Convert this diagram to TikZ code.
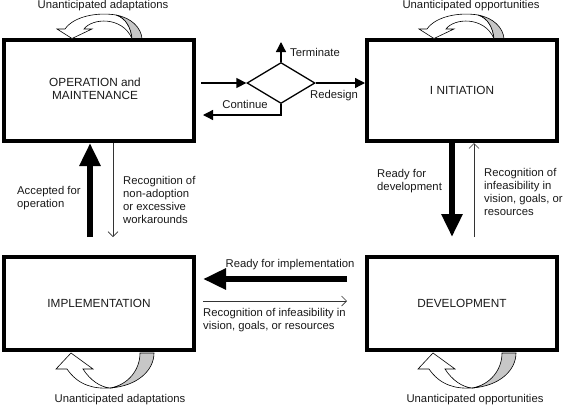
\documentclass[tikz,border=0pt]{standalone}
\usepackage{fontspec}
\setmainfont{Liberation Sans}
\usetikzlibrary{arrows.meta,shapes.geometric,calc}
\newcommand\topribbon{%
  \draw[ribbon] (57,29) -- (72,38.5) -- (92,29) -- (84,29)
    .. controls (92,18) and (122,16) .. (132,38.5)
    .. controls (131,28) and (126,18) .. (116,15)
    .. controls (98,12) and (74,16) .. (65,29) -- cycle;
  \draw[ribbonback] (116,15) .. controls (132,18) and (141,28) .. (142,38.5)
    -- (132,38.5) .. controls (131,28) and (126,18) .. (116,15) -- cycle;}
\newcommand\botribbon{%
  \draw[ribbon] (56,369) -- (71,353) -- (93,369) -- (83,369)
    .. controls (90,380) and (100,387) .. (110,388)
    .. controls (93,389) and (78,385) .. (67,369) -- cycle;
  \draw[ribbonback] (110,388) .. controls (138,386) and (154,370) .. (154,353)
    -- (140,353) .. controls (140,370) and (128,385) .. (110,388) -- cycle;}
\begin{document}
\begin{tikzpicture}[x=1pt,y=-1pt,
  every node/.style={font=\fontsize{11.3}{13}\selectfont, text=black!90},
  phase/.style={draw, line width=4pt, minimum width=190pt, inner sep=0pt, align=center,
    font=\fontsize{11.8}{13.5}\selectfont},
  fatarrow/.style={line width=6pt, -{Triangle[length=23pt,width=20pt]}},
  thinarrow/.style={line width=0.7pt, draw=black!80, -{Straight Barb[length=5pt,width=10pt]}},
  midarrow/.style={line width=1.3pt, -{Triangle[length=10pt,width=10pt]}},
  lbl/.style={align=left, inner sep=0pt},
  ribbon/.style={draw, line width=0.6pt, fill=white},
  ribbonback/.style={draw, line width=0.6pt, fill=black!22},
]
\useasboundingbox (0,0) rectangle (566,408);

% phases
\node[phase, minimum height=101pt] (op) at (99,90.5)
  {\raisebox{-6pt}{\begin{tabular}{@{}c@{}}OPERATION and\\MAINTENANCE\end{tabular}}\hspace*{8pt}};
\node[phase, minimum height=101pt] (init) at (462,90.5) {I NITIATION};
\node[phase, minimum height=93pt] (impl) at (99,303.5) {IMPLEMENTATION};
\node[phase, minimum height=93pt] (dev) at (462,303.5) {DEVELOPMENT};

% self loops
\topribbon
\begin{scope}[shift={(362,0)}]\topribbon\end{scope}
\botribbon
\begin{scope}[shift={(362,0)}]\botribbon\end{scope}
\node[lbl] (ua1) at (103,6) {Unanticipated adaptations};
\node[lbl] (uo1) at (471,6) {Unanticipated opportunities};
\node[lbl] (ua2) at (120,400) {Unanticipated adaptations};
\node[lbl] (uo2) at (475,400) {Unanticipated opportunities};

% decision
\node[draw, diamond, line width=1.3pt, minimum width=68pt, minimum height=41pt, inner sep=0pt] (dec) at (281,83) {};
\coordinate (term) at (281,42);
\draw[midarrow] ([xshift=5pt,yshift=7.5pt]op.east) -- (dec.west);
\draw[midarrow] (dec.east) -- ([yshift=7.5pt]init.west);
\draw[midarrow] (dec.north) -- (term);
\draw[midarrow] (dec.south) |- ([xshift=7pt,yshift=-24.5pt]op.east);
\node[lbl, anchor=west] (tterm) at (290,52) {Terminate};
\node[lbl] (tred) at (334,96) {Redesign};
\node[lbl] (tcont) at (245,104) {Continue};

% vertical transitions
\draw[fatarrow] ([xshift=-9pt,yshift=18pt]impl.north) -- ([xshift=-9pt]op.south);
\draw[thinarrow] ([xshift=14pt]op.south) -- ([xshift=14pt,yshift=18pt]impl.north);
\draw[fatarrow] ([xshift=-10pt]init.south) -- ([xshift=-10pt,yshift=18pt]dev.north);
\draw[thinarrow] ([xshift=12pt,yshift=18pt]dev.north) -- ([xshift=12pt]init.south);
\node[lbl, anchor=west] (tacc) at (17,198) {Accepted for\\operation};
\node[lbl, anchor=west] (tnon) at (123,199.5) {Recognition of\\non-adoption\\or excessive\\workarounds};
\node[lbl, anchor=west] (tready) at (377,181) {Ready for\\development};
\node[lbl, anchor=west] (tinf) at (484,192) {Recognition of\\infeasibility in\\vision, goals, or\\resources};

% horizontal transitions
\draw[fatarrow] ([xshift=-18pt,yshift=24.5pt]dev.west) -- ([xshift=7pt,yshift=24.5pt]impl.east);
\draw[thinarrow] ([xshift=7pt,yshift=2.5pt]impl.east) -- ([xshift=-18pt,yshift=2.5pt]dev.west);
\node[lbl] (timp) at (290,265) {Ready for implementation};
\node[lbl, anchor=west] (tinf2) at (203,320.5) {Recognition of infeasibility in\\vision, goals, or resources};
\end{tikzpicture}
\end{document}
